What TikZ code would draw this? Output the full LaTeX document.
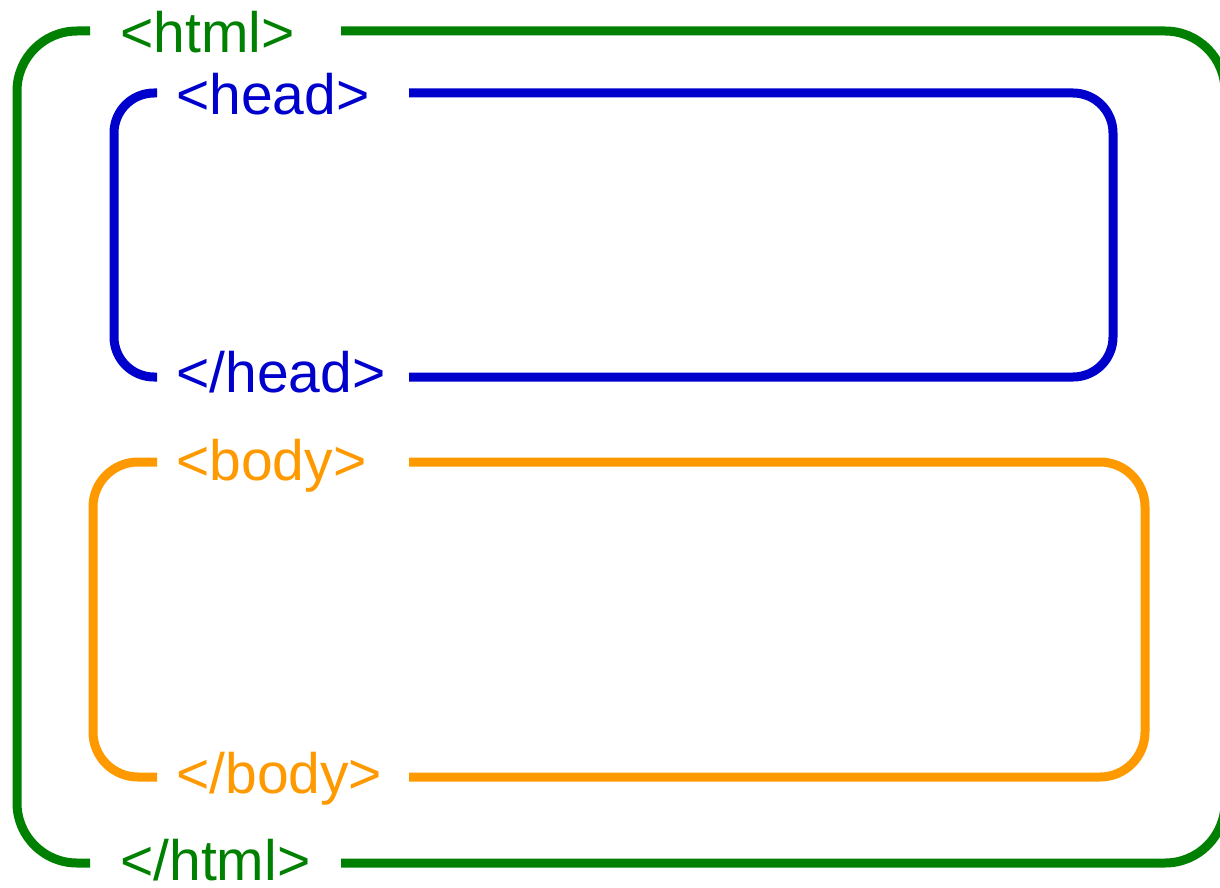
\documentclass[tikz,border=0pt]{standalone}
\usepackage{fontspec}
\setmainfont{Liberation Sans}
\definecolor{htmlgreen}{RGB}{0,128,0}
\definecolor{headblue}{RGB}{0,0,204}
\definecolor{bodyorange}{RGB}{255,153,0}
\begin{document}
\begin{tikzpicture}[x=1pt, y=-1pt,
  frame/.style={line width=9pt, rounded corners=#1},
  tag/.style={anchor=base west, inner sep=0pt, font=\fontsize{57}{60}\selectfont}]
\useasboundingbox (0,0) rectangle (1220,888);
% html
\draw[frame=60, htmlgreen] (90,31) -- (17,31) -- (17,863) -- (90,863);
\draw[frame=60, htmlgreen] (341,31) -- (1225,31) -- (1225,863) -- (341,863);
\node[tag, text=htmlgreen] (htmlopen) at (120,53) {<html>};
\node[tag, text=htmlgreen] (htmlclose) at (120,880) {</html>};
% head
\draw[frame=40, headblue] (157,93) -- (114,93) -- (114,377) -- (157,377);
\draw[frame=40, headblue] (409,93) -- (1113,93) -- (1113,377) -- (409,377);
\node[tag, text=headblue] (headopen) at (176,114) {<head>};
\node[tag, text=headblue] (headclose) at (176,392) {</head>};
% body
\draw[frame=45, bodyorange] (157,462) -- (93,462) -- (93,777) -- (157,777);
\draw[frame=45, bodyorange] (409,462) -- (1145,462) -- (1145,777) -- (409,777);
\node[tag, text=bodyorange] (bodyopen) at (176,480) {<body>};
\node[tag, text=bodyorange] (bodyclose) at (176,793) {</body>};
\end{tikzpicture}
\end{document}
